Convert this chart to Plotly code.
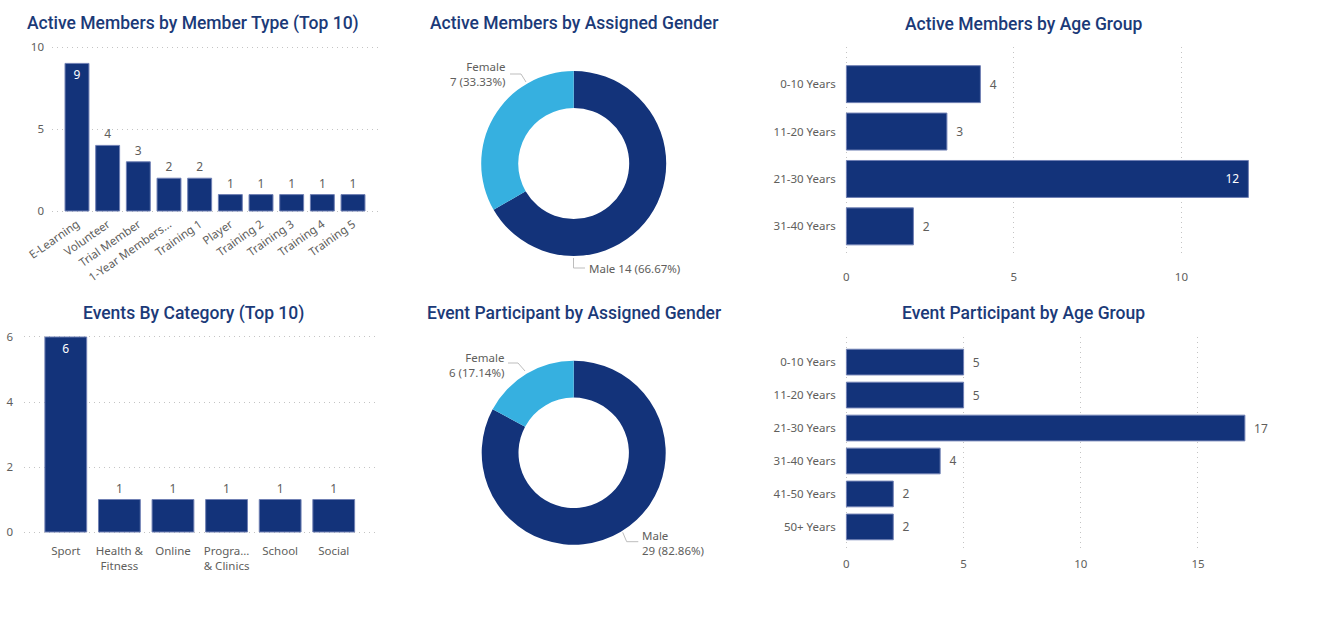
import plotly.graph_objects as go

# ---------------- data ----------------
member_types = ["E-Learning", "Volunteer", "Trial Member", "1-Year Members...", "Training 1",
                "Player", "Training 2", "Training 3", "Training 4", "Training 5"]
member_type_counts = [9, 4, 3, 2, 2, 1, 1, 1, 1, 1]

event_categories = ["Sport", "Health &<br>Fitness", "Online", "Progra...<br>& Clinics", "School", "Social"]
event_category_counts = [6, 1, 1, 1, 1, 1]

gender_labels = ["Male", "Female"]
active_gender_counts = [14, 7]
event_gender_counts = [29, 6]

active_age_groups = ["0-10 Years", "11-20 Years", "21-30 Years", "31-40 Years"]
active_age_counts = [4, 3, 12, 2]

event_age_groups = ["0-10 Years", "11-20 Years", "21-30 Years", "31-40 Years", "41-50 Years", "50+ Years"]
event_age_counts = [5, 5, 17, 4, 2, 2]

# ---------------- style ----------------
W, H = 1318, 633
NAVY = "#13337A"
LIGHT = "#36B0E0"
GRAY = "#605E5C"
GRID = "#C4C4C4"
GRID_DASH = "1px,4px"
TITLE_C = "#1B3A78"
BAR_EDGE = "#7080B4"
TITLE_FONT = dict(family="Roboto", size=17.5, color=TITLE_C, weight=500)
TICK_FONT = dict(family="Noto Sans", size=11.5, color=GRAY)
LBL_FONT = dict(family="Noto Sans", size=11.5, color=GRAY)
NB = "\u00a0"


def xd(px):
    return px / W


def yd(py):
    return 1 - py / H


fig = go.Figure()


def label_style(values, inside_max=True, horizontal=False):
    m = max(values)
    pos, col, tpl = [], [], []
    key = "%{x}" if horizontal else "%{y}"
    for v in values:
        inside = inside_max and v == m
        pos.append("inside" if inside else "outside")
        col.append("white" if inside else GRAY)
        if horizontal:
            tpl.append(key + NB * 2 if inside else NB * 2 + key)
        else:
            tpl.append(key)
    return pos, col, tpl


def vbar(x, y, xa, ya):
    pos, col, tpl = label_style(y)
    fig.add_trace(go.Bar(x=x, y=y, texttemplate=tpl, textposition=pos,
                         textfont=dict(family="Noto Sans", size=12, color=col),
                         insidetextanchor="end", cliponaxis=False, hoverinfo="x+y",
                         marker=dict(color=NAVY, line=dict(color=BAR_EDGE, width=1)),
                         xaxis=xa, yaxis=ya, showlegend=False))


def hbar(y, x, xa, ya, inside_max):
    pos, col, tpl = label_style(x, inside_max=inside_max, horizontal=True)
    fig.add_trace(go.Bar(y=y, x=x, orientation="h", texttemplate=tpl, textposition=pos,
                         textfont=dict(family="Noto Sans", size=12, color=col),
                         insidetextanchor="end", cliponaxis=False, hoverinfo="x+y",
                         marker=dict(color=NAVY, line=dict(color=BAR_EDGE, width=1)),
                         xaxis=xa, yaxis=ya, showlegend=False))


vbar(member_types, member_type_counts, "x", "y")
vbar(event_categories, event_category_counts, "x2", "y2")
hbar(active_age_groups, active_age_counts, "x3", "y3", True)
hbar(event_age_groups, event_age_counts, "x4", "y4", False)

# donuts
fig.add_trace(go.Pie(labels=gender_labels, values=active_gender_counts, hole=0.6, sort=False,
                     direction="clockwise", rotation=0, textinfo="none",
                     marker=dict(colors=[NAVY, LIGHT]), showlegend=False,
                     domain=dict(x=[xd(481.2), xd(666.2)], y=[yd(256), yd(71)])))
fig.add_trace(go.Pie(labels=gender_labels, values=event_gender_counts, hole=0.6, sort=False,
                     direction="clockwise", rotation=0, textinfo="none",
                     marker=dict(colors=[NAVY, LIGHT]), showlegend=False,
                     domain=dict(x=[xd(481.7), xd(665.7)], y=[yd(544.8), yd(360.8)])))

grid_common = dict(showgrid=True, gridcolor=GRID, griddash=GRID_DASH, gridwidth=1, zeroline=False,
                   showline=False, ticks="", tickfont=TICK_FONT, fixedrange=True, automargin=False)
cat_common = dict(showgrid=False, zeroline=False, showline=False, ticks="", tickfont=TICK_FONT,
                  fixedrange=True, automargin=False)


def vdomain(p0, p1, v0, v1, pad):
    """pixel rows of value v0 (bottom) and v1 (top); pad in value units on both ends."""
    ppu = (p0 - p1) / (v1 - v0)
    return [yd(p0 + pad * ppu), yd(p1 - pad * ppu)], [v0 - pad, v1 + pad]


def hdomain(p0, v0, ppu, p_right, pad):
    left = p0 - pad * ppu
    return [xd(left), xd(p_right)], [v0 - pad, v0 + (p_right - p0) / ppu]


y1_dom, y1_rng = vdomain(211, 47, 0, 10, 0.09)
y2_dom, y2_rng = vdomain(532, 337, 0, 6, 0.05)
x3_dom, x3_rng = hdomain(846.4, 0, 33.5, 1290, 0.05)
x4_dom, x4_rng = hdomain(846.4, 0, 23.44, 1290, 0.07)

fig.update_layout(
    width=W, height=H, margin=dict(l=0, r=0, t=0, b=0, autoexpand=False),
    paper_bgcolor="white", plot_bgcolor="white", bargap=0.22,
    xaxis=dict(domain=[xd(52), xd(380)], range=[-0.815, 9.88], tickangle=-35, type="category",
               anchor="y", ticklabelstandoff=2, **cat_common),
    yaxis=dict(domain=y1_dom, range=y1_rng, tickvals=[0, 5, 10], anchor="x",
               ticklabelstandoff=7, **grid_common),
    xaxis2=dict(domain=[xd(24), xd(375)], range=[-0.78, 5.77], type="category", anchor="y2",
                ticklabelstandoff=9, **cat_common),
    yaxis2=dict(domain=y2_dom, range=y2_rng, tickvals=[0, 2, 4, 6], anchor="x2",
                ticklabelstandoff=10, **grid_common),
    xaxis3=dict(domain=x3_dom, range=x3_rng, tickvals=[0, 5, 10], anchor="y3",
                ticklabelstandoff=12, **grid_common),
    yaxis3=dict(domain=[yd(256.7), yd(46.7)], range=[3.64, -0.79], type="category", anchor="x3",
                ticklabelstandoff=8, **cat_common),
    xaxis4=dict(domain=x4_dom, range=x4_rng, tickvals=[0, 5, 10, 15], anchor="y4",
                ticklabelstandoff=5, **grid_common),
    yaxis4=dict(domain=[yd(550), yd(336.7)], range=[5.70, -0.77], type="category", anchor="x4",
                ticklabelstandoff=8, **cat_common),
)

# titles
titles = [
    ("Active Members by Member Type (Top 10)", 25, 23, "left"),
    ("Events By Category (Top 10)", 193, 313, "center"),
    ("Active Members by Assigned Gender", 574, 23, "center"),
    ("Event Participant by Assigned Gender", 573.5, 313, "center"),
    ("Active Members by Age Group", 1023, 24, "center"),
    ("Event Participant by Age Group", 1023, 313, "center"),
]
for t, x, y, anc in titles:
    fig.add_annotation(text=t, x=xd(x), y=yd(y), xref="paper", yref="paper", xanchor=anc,
                       yanchor="middle", showarrow=False, font=TITLE_FONT)


def pct_text(vals, i):
    return f"{vals[i]} ({vals[i] / sum(vals) * 100:.2f}%)"


# donut labels
fig.add_annotation(text=f"{gender_labels[1]}<br>{pct_text(active_gender_counts, 1)}", x=xd(507), y=yd(74.5),
                   xref="paper", yref="paper", xanchor="right", yanchor="middle", align="right",
                   showarrow=False, font=LBL_FONT)
fig.add_annotation(text=f"{gender_labels[0]} {pct_text(active_gender_counts, 0)}", x=xd(587), y=yd(268),
                   xref="paper", yref="paper", xanchor="left", yanchor="middle", align="left",
                   showarrow=False, font=LBL_FONT)
fig.add_annotation(text=f"{gender_labels[1]}<br>{pct_text(event_gender_counts, 1)}", x=xd(506), y=yd(365.5),
                   xref="paper", yref="paper", xanchor="right", yanchor="middle", align="right",
                   showarrow=False, font=LBL_FONT)
fig.add_annotation(text=f"{gender_labels[0]}<br>{pct_text(event_gender_counts, 0)}", x=xd(640), y=yd(543),
                   xref="paper", yref="paper", xanchor="left", yanchor="middle", align="left",
                   showarrow=False, font=LBL_FONT)


def leader(points):
    path = "M " + " L ".join(f"{xd(px)},{yd(py)}" for px, py in points)
    fig.add_shape(type="path", path=path, xref="paper", yref="paper",
                  line=dict(color="#BDBDBD", width=1))


leader([(510, 74), (521, 74), (526, 82)])
leader([(573.5, 258), (573.5, 268), (585, 268)])
leader([(508, 363), (518, 363), (525, 371)])
leader([(622.7, 532.3), (626.7, 541.7), (638.3, 541.7)])

fig.write_html("out.html", config={"displayModeBar": False},
               post_script="document.body.style.margin='0';document.body.style.overflow='hidden';")
